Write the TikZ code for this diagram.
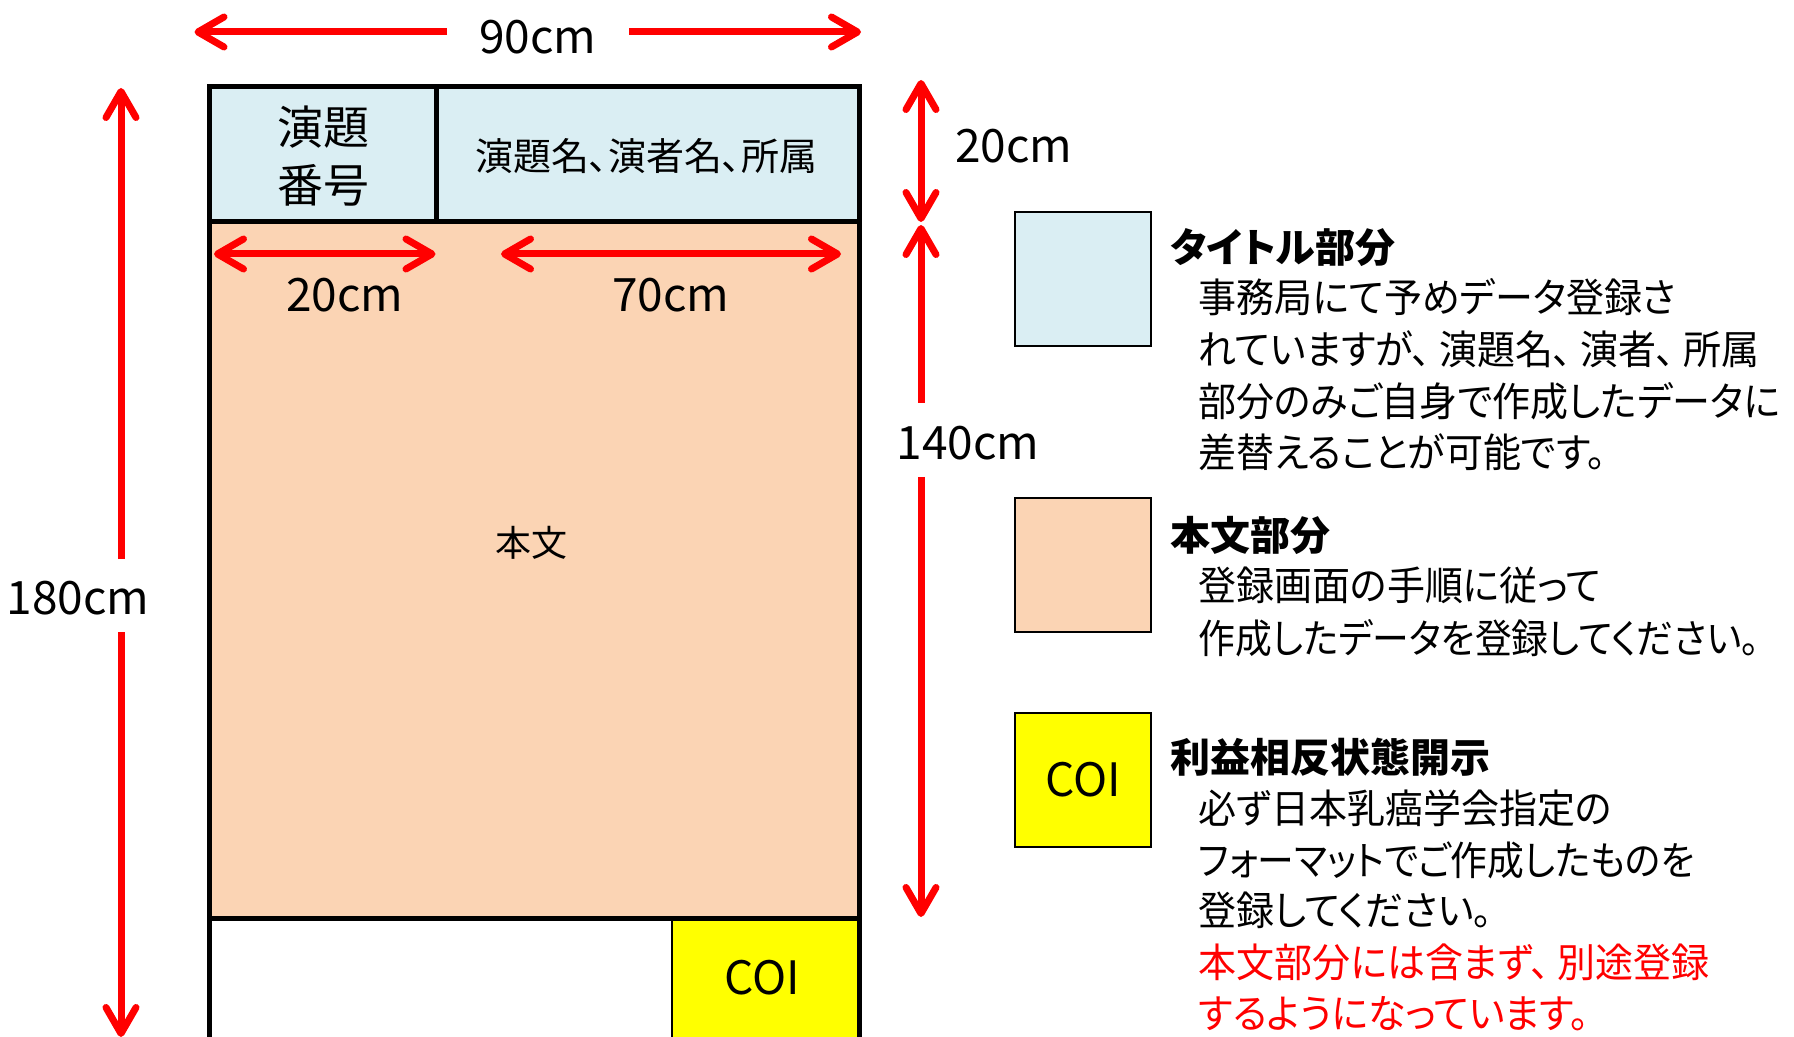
\documentclass[tikz,border=0pt]{standalone}
\usepackage{fontspec}
\setmainfont{Noto Sans CJK JP}[RawFeature=+palt]
\newfontfamily\legfont{Noto Sans CJK JP}[RawFeature=+palt,FakeStretch=0.95]
\newfontfamily\legfontn{Noto Sans CJK JP}[RawFeature=+palt,FakeStretch=0.92]
\usetikzlibrary{arrows.meta}
\definecolor{hdrblue}{HTML}{DAEEF3}
\definecolor{bodyor}{HTML}{FBD4B4}
\definecolor{coiy}{HTML}{FFFF00}
\definecolor{dimred}{HTML}{FF0000}
\newcommand\fsz[1]{\fontsize{#1}{#1}\selectfont}
\newcommand\tcm{、\kern4pt}
\begin{document}
\begin{tikzpicture}[x=0.5pt,y=-0.5pt,
  barb/.tip={Straight Barb[length=13pt,width=15pt,round]},
  dimarrow/.style={draw=dimred,line width=3.5pt,-barb},
  dimboth/.style={draw=dimred,line width=3.5pt,barb-barb},
  frame/.style={draw=black,line width=2.5pt},
  dimlbl/.style={font=\fsz{23pt},inner sep=0pt},
  legbox/.style={draw=black,line width=1.1pt,minimum width=68pt,minimum height=67pt,inner sep=0pt},
  leghead/.style={anchor=base west,inner sep=0pt,font=\fsz{20pt}\bfseries},
  legtext/.style={anchor=base west,inner sep=0pt,font=\legfont\fsz{20pt}},
  legtextn/.style={anchor=base west,inner sep=0pt,font=\legfontn\fsz{20pt}},
]
\useasboundingbox (0,0) rectangle (1794,1037);
% poster
\fill[hdrblue] (209,87) rectangle (859,222);
\fill[bodyor] (209,222) rectangle (859,918);
\fill[coiy] (672,918) rectangle (857,1045);
\draw[black,line width=0.6pt] (672,918) -- (672,1045);
\draw[frame] (209,1045) -- (209,87) -- (859,87) -- (859,1045);
\draw[frame] (209,222) -- (859,222);
\draw[frame] (436.5,87) -- (436.5,222);
\draw[frame] (209,918) -- (859,918);
\node[inner sep=0pt,font=\fsz{23pt}] (hn1) at (323,127) {演題};
\node[inner sep=0pt,font=\fsz{23pt}] (hn2) at (323,185) {番号};
\node[inner sep=0pt,font=\fsz{19pt}] (htitle) at (646,156) {演題名、演者名、所属};
\node[inner sep=0pt,font=\fsz{18pt}] (honbun) at (531,543) {本文};
\node[dimlbl] (pcoi) at (762,978) {COI};
% dimension arrows
\node[dimlbl] (l90) at (538,37) {90cm};
\coordinate (a90l) at (194.5,32); \coordinate (a90r) at (861,32);
\coordinate (a90ls) at (447,32); \coordinate (a90rs) at (629,32);
\draw[dimarrow] (a90ls) -- (a90l);
\draw[dimarrow] (a90rs) -- (a90r);
\node[dimlbl] (l180) at (78,598) {180cm};
\coordinate (a180t) at (121,88); \coordinate (a180b) at (121,1037);
\coordinate (a180ts) at (121,559); \coordinate (a180bs) at (121,632);
\draw[dimarrow] (a180ts) -- (a180t);
\draw[dimarrow] (a180bs) -- (a180b);
\node[dimlbl] (l20a) at (345,295) {20cm};
\node[dimlbl] (l70) at (671,295) {70cm};
\coordinate (a20l) at (214,254); \coordinate (a20r) at (435.5,254);
\coordinate (a70l) at (501,254); \coordinate (a70r) at (841,254);
\draw[dimboth] (a20l) -- (a20r);
\draw[dimboth] (a70l) -- (a70r);
\node[dimlbl] (l20b) at (1014,146) {20cm};
\coordinate (v20t) at (921,80); \coordinate (v20b) at (921,222);
\draw[dimboth] (v20t) -- (v20b);
\node[dimlbl] (l140) at (968,443) {140cm};
\coordinate (v140t) at (921,225); \coordinate (v140ts) at (921,403);
\coordinate (v140b) at (921,917); \coordinate (v140bs) at (921,477);
\draw[dimarrow] (v140ts) -- (v140t);
\draw[dimarrow] (v140bs) -- (v140b);
% legend
\node[legbox,fill=hdrblue] (lg1) at (1083,279) {};
\node[legbox,fill=bodyor] (lg2) at (1083,565) {};
\node[legbox,fill=coiy,font=\fsz{23pt}] (lg3) at (1083,780) {COI};
\node[leghead] (h1) at (1170,263) {タイトル部分};
\node[legtext] (t11) at (1198,313) {事務局にて予めデータ登録さ};
\node[legtext] (t12) at (1198,365) {れていますが\tcm 演題名\tcm 演者\tcm 所属};
\node[legtext] (t13) at (1198,417) {部分のみご自身で作成したデータに};
\node[legtext] (t14) at (1198,468) {差替えることが可能です。};
\node[leghead] (h2) at (1170,550) {本文部分};
\node[legtext] (t21) at (1198,600) {登録画面の手順に従って};
\node[legtextn] (t22) at (1198,653) {作成したデータを登録してください。};
\node[leghead] (h3) at (1170,772) {利益相反状態開示};
\node[legtext] (t31) at (1198,823) {必ず日本乳癌学会指定の};
\node[legtextn] (t32) at (1198,875) {フォーマットでご作成したものを};
\node[legtext] (t33) at (1198,925) {登録してください。};
\node[legtext,text=dimred] (t34) at (1198,977) {本文部分には含まず\tcm 別途登録};
\node[legtext,text=dimred] (t35) at (1198,1028) {するようになっています。};
\end{tikzpicture}
\end{document}
